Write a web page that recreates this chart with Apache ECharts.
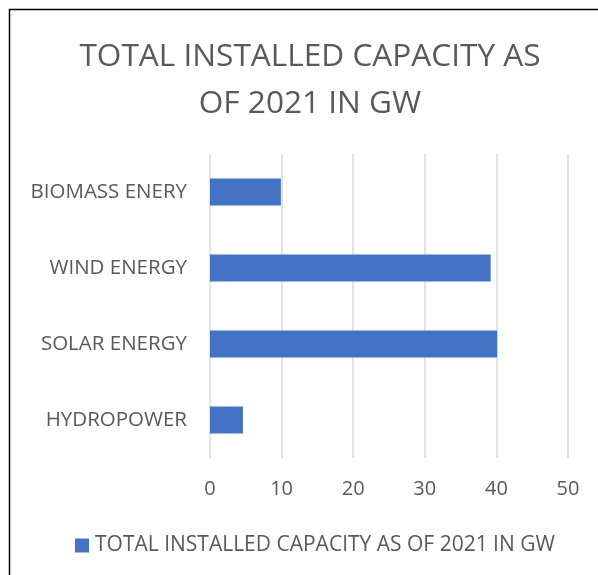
<!DOCTYPE html>
<html><head><meta charset="utf-8">
<script src="https://cdn.jsdelivr.net/npm/echarts@6/dist/echarts.min.js"></script>
<style>html,body{margin:0;padding:0;background:#fff}#c{width:598px;height:575px}</style>
</head><body><div id="c"></div>
<script>
var categories = ['BIOMASS ENERY', 'WIND ENERGY', 'SOLAR ENERGY', 'HYDROPOWER'];
var values = [9.9, 39.2, 40.1, 4.6];
var seriesName = 'TOTAL INSTALLED CAPACITY AS OF 2021 IN GW';
var titleText = 'TOTAL INSTALLED CAPACITY AS\nOF 2021 IN GW';
var xTicks = [0, 10, 20, 30, 40, 50];

var chart = echarts.init(document.getElementById('c'));
var font = 'Open Sans';
chart.setOption({
  animation: false,
  graphic: [{type:'rect', shape:{x:9.5,y:9.5,width:600,height:600}, style:{fill:'none', stroke:'#000', lineWidth:1.5}, z:-1}],
  title: {text: titleText, left: 305, textAlign:'center', top: 28, textStyle:{fontFamily:font, fontSize:31.6, fontWeight:'normal', color:'#595959', lineHeight:47}},
  grid: {left:210, right:30, top:154, bottom:117, containLabel:false},
  xAxis: {type:'value', min:xTicks[0], max:xTicks[xTicks.length-1], interval:10,
    axisLine:{show:false}, axisTick:{show:false},
    splitLine:{lineStyle:{color:'#d9d9d9', width:1.5}},
    axisLabel:{fontFamily:font, fontSize:20, color:'#595959', margin:21}},
  yAxis: {type:'category', data:categories, inverse:true,
    axisLine:{show:false}, axisTick:{show:false},
    axisLabel:{fontFamily:font, fontSize:20.5, color:'#595959', margin:23}},
  legend: {top:530, left:70, itemWidth:14, itemHeight:14, itemGap:5, icon:'rect',
    textStyle:{fontFamily:font, fontSize:21, color:'#595959', padding:[0,0,0,1]}},
  series: [{name: seriesName, type:'bar', data: values, barWidth: 27,
    itemStyle:{color:'#4472c4'}}]
});
</script></body></html>
